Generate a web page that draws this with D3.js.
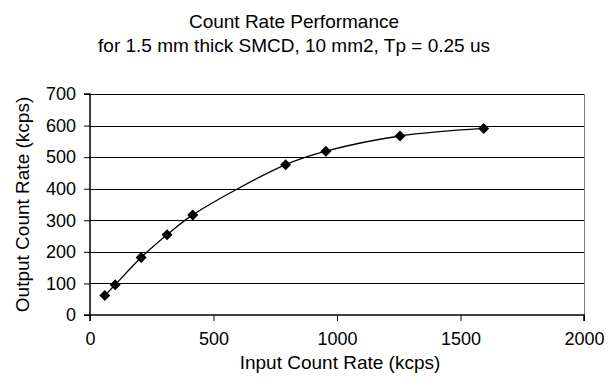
<!DOCTYPE html>
<html>
<head>
<meta charset="utf-8">
<script src="https://cdn.jsdelivr.net/npm/d3@7"></script>
<style>
  body { margin: 0; background: #fff; }
  text { font-family: "Liberation Sans", Arial, sans-serif; fill: #000; }
</style>
</head>
<body>
<svg id="chart" width="609" height="387"></svg>
<script>
const inputRate  = [60, 102, 207, 312, 416, 792, 955, 1255, 1594];
const outputRate = [62, 96, 182, 254, 317, 476, 519, 567, 591];
const xTicks = [0, 500, 1000, 1500, 2000];
const yTicks = [0, 100, 200, 300, 400, 500, 600, 700];
const titleLines = ["Count Rate Performance", "for 1.5 mm thick SMCD, 10 mm2, Tp = 0.25 us"];
const xTitle = "Input Count Rate (kcps)";
const yTitle = "Output Count Rate (kcps)";

const data = inputRate.map((x, i) => ({x, y: outputRate[i]}));

const svg = d3.select("#chart");
const L = 90, R = 584, T = 94, B = 315;

const x = d3.scaleLinear().domain([0, 2000]).range([L, R]);
const y = d3.scaleLinear().domain([0, 700]).range([B, T]);

// gridlines
svg.append("g").selectAll("line").data(yTicks.filter(d => d > 0)).join("line")
  .attr("x1", L).attr("x2", R)
  .attr("y1", d => Math.round(y(d)) + 0.5).attr("y2", d => Math.round(y(d)) + 0.5)
  .attr("stroke", "#000").attr("stroke-width", 1);

// right border
svg.append("line").attr("x1", R + 0.5).attr("x2", R + 0.5).attr("y1", T).attr("y2", B)
  .attr("stroke", "#808080").attr("stroke-width", 1);

// axes
const yAxis = svg.append("g").attr("transform", `translate(${L},0)`)
  .call(d3.axisLeft(y).tickValues(yTicks).tickSize(6).tickPadding(8).tickFormat(d3.format("d")));
const xAxis = svg.append("g").attr("transform", `translate(0,${B})`)
  .call(d3.axisBottom(x).tickValues(xTicks).tickSize(6).tickPadding(11).tickFormat(d3.format("d")));
[yAxis, xAxis].forEach(g => {
  g.select(".domain").attr("stroke", "#000").attr("stroke-width", 1.5);
  g.selectAll(".tick line").attr("stroke", "#000");
  g.selectAll(".tick text").style("font-size", "18px").style("font-family", "Liberation Sans, Arial, sans-serif");
});
yAxis.select(".domain").attr("d", `M-6,${T}H0V${B}H-6`);
xAxis.select(".domain").attr("d", `M${L},6V0H${R}V6`);

// line
svg.append("path").datum(data)
  .attr("fill", "none").attr("stroke", "#000").attr("stroke-width", 1.3)
  .attr("d", d3.line().x(d => x(d.x)).y(d => y(d.y)).curve(d3.curveCatmullRom.alpha(0.5)));

// markers
svg.append("g").selectAll("path").data(data).join("path")
  .attr("transform", d => `translate(${x(d.x)},${y(d.y)})`)
  .attr("d", "M0,-5.5L5.5,0L0,5.5L-5.5,0Z")
  .attr("fill", "#000");

// titles
svg.append("text").attr("x", 294).attr("y", 28).attr("text-anchor", "middle")
  .style("font-size", "19px").text(titleLines[0]);
svg.append("text").attr("x", 294).attr("y", 52).attr("text-anchor", "middle")
  .style("font-size", "19px").text(titleLines[1]);
svg.append("text").attr("x", 340).attr("y", 369).attr("text-anchor", "middle")
  .style("font-size", "19px").text(xTitle);
svg.append("text").attr("transform", `translate(29,${(T + B) / 2}) rotate(-90)`)
  .attr("text-anchor", "middle").style("font-size", "19px").text(yTitle);
</script>
</body>
</html>
